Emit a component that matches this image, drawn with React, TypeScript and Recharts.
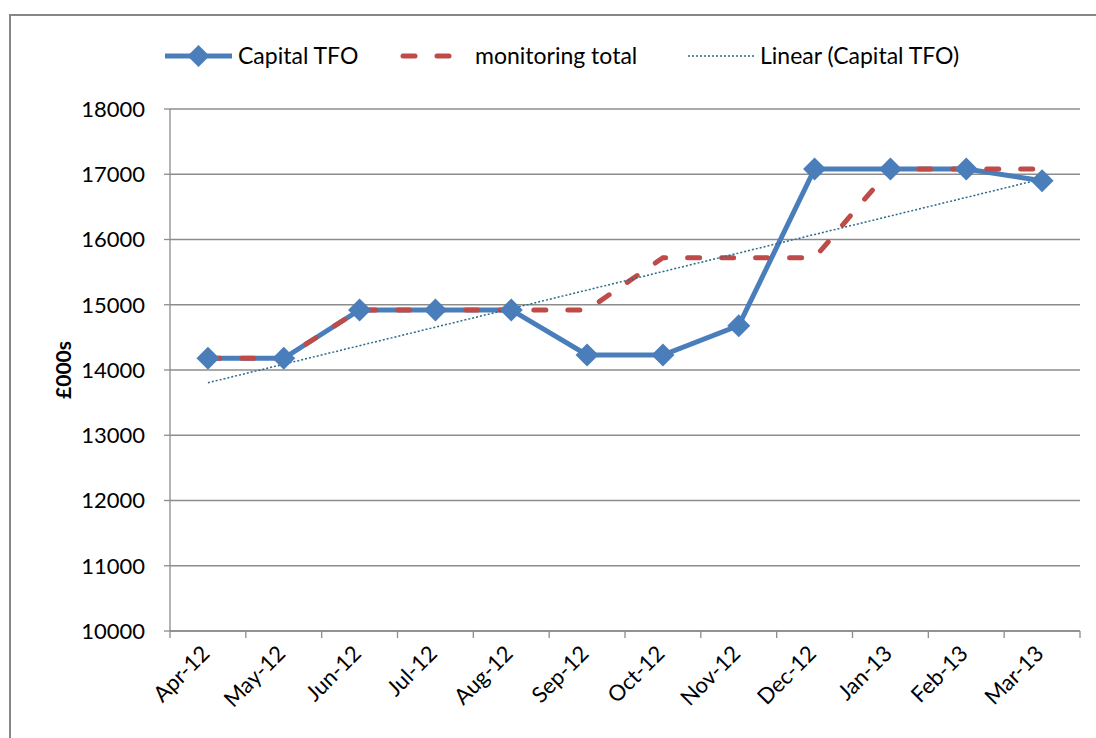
import {
  LineChart,
  Line,
  XAxis,
  YAxis,
  CartesianGrid,
  Legend,
} from "recharts";

const months = [
  "Apr-12", "May-12", "Jun-12", "Jul-12", "Aug-12", "Sep-12",
  "Oct-12", "Nov-12", "Dec-12", "Jan-13", "Feb-13", "Mar-13",
];
const capitalTfo = [14180, 14180, 14920, 14920, 14920, 14230, 14230, 14680, 17080, 17080, 17080, 16900];
const monitoringTotal = [14180, 14180, 14920, 14920, 14920, 14920, 15720, 15720, 15720, 17080, 17080, 17080];
const yTicks = [10000, 11000, 12000, 13000, 14000, 15000, 16000, 17000, 18000];

const BLUE = "#4a7ebb";
const RED = "#be4b48";
const TREND = "#2a6b8a";
const GRID = "#8c8c8c";
const FONT = 'Lato, "Liberation Sans", Arial, sans-serif';

// least squares trendline over Capital TFO, like Excel's "Linear" trendline
function linearFit(values: number[]) {
  const n = values.length;
  const mx = (n - 1) / 2;
  const my = values.reduce((a, b) => a + b, 0) / n;
  let sxy = 0;
  let sxx = 0;
  values.forEach((v, i) => {
    sxy += (i - mx) * (v - my);
    sxx += (i - mx) * (i - mx);
  });
  const slope = sxy / sxx;
  return values.map((_, i) => my + slope * (i - mx));
}

const trend = linearFit(capitalTfo);

const data = months.map((m, i) => ({
  month: m,
  capital: capitalTfo[i],
  monitoring: monitoringTotal[i],
  trend: trend[i],
}));

const Diamond = (props: any) => {
  const { cx, cy } = props;
  if (cx == null || cy == null) return null;
  const r = 11.5;
  return (
    <polygon
      points={`${cx},${cy - r} ${cx + r},${cy} ${cx},${cy + r} ${cx - r},${cy}`}
      fill={BLUE}
    />
  );
};

const BAND = (1080 - 170) / months.length;

const XTick = (props: any) => {
  const { x, y, payload } = props;
  const half = BAND / 2;
  const last = payload.index === months.length - 1;
  return (
    <g>
      <line x1={x - half} y1={y} x2={x - half} y2={y + 7} stroke={GRID} strokeWidth={1.3} />
      {last && <line x1={x + half} y1={y} x2={x + half} y2={y + 7} stroke={GRID} strokeWidth={1.3} />}
      <text
        transform={`translate(${x + 3},${y + 24}) rotate(-45)`}
        textAnchor="end"
        fontSize={22}
        fontFamily={FONT}
        fill="#000"
      >
        {payload.value}
      </text>
    </g>
  );
};

const legendItems = [
  { name: "Capital TFO", left: 165, iconW: 67, textLeft: 238, kind: "capital" },
  { name: "monitoring total", left: 400, iconW: 55, textLeft: 475, kind: "monitoring" },
  { name: "Linear (Capital TFO)", left: 688, iconW: 67, textLeft: 760, kind: "trend" },
];

const renderLegend = () => (
  <div style={{ position: "relative", width: 1096, height: 40, fontFamily: FONT, fontSize: 23 }}>
    {legendItems.map((it) => (
      <div key={it.name}>
        <svg
          width={it.iconW}
          height={30}
          style={{ position: "absolute", left: it.left, top: 0 }}
        >
          {it.kind === "capital" && (
            <>
              <line x1={0} y1={15} x2={it.iconW} y2={15} stroke={BLUE} strokeWidth={5} />
              <polygon points={`${it.iconW / 2},4 ${it.iconW / 2 + 11},15 ${it.iconW / 2},26 ${it.iconW / 2 - 11},15`} fill={BLUE} />
            </>
          )}
          {it.kind === "monitoring" && (
            <line x1={3} y1={15} x2={it.iconW - 3} y2={15} stroke={RED} strokeWidth={5} strokeDasharray="12 22" strokeLinecap="round" />
          )}
          {it.kind === "trend" && (
            <line x1={0} y1={15} x2={it.iconW} y2={15} stroke={TREND} strokeWidth={1.5} strokeDasharray="2 2" />
          )}
        </svg>
        <span style={{ position: "absolute", left: it.textLeft, top: 0, lineHeight: "28px", whiteSpace: "nowrap", color: "#000" }}>
          {it.name}
        </span>
      </div>
    ))}
  </div>
);

const YLabel = (props: any) => {
  const vb = props.viewBox || {};
  const cy = (vb.y ?? 109) + (vb.height ?? 522) / 2;
  return (
    <text
      transform={`translate(62,${cy}) rotate(-90)`}
      textAnchor="middle"
      dominantBaseline="central"
      fontSize={21}
      fontWeight="bold"
      fontFamily={FONT}
      fill="#000"
    >
      £000s
    </text>
  );
};

export default function App() {
  return (
    <div
      style={{
        position: "fixed",
        left: 0,
        top: 0,
        width: 1096,
        height: 738,
        overflow: "hidden",
        background: "#fff",
      }}
    >
      <div
        style={{
          position: "absolute",
          left: 9,
          top: 14,
          width: 1300,
          height: 900,
          border: "2px solid #878787",
        }}
      />
      <div style={{ position: "absolute", left: 0, top: 0 }}>
        <LineChart
          width={1096}
          height={738}
          data={data}
          margin={{ top: 109, right: 16, left: 0, bottom: 7 }}
        >
          <CartesianGrid vertical={false} stroke={GRID} strokeWidth={1.3} />
          <XAxis
            dataKey="month"
            scale="band"
            height={100}
            axisLine={{ stroke: GRID, strokeWidth: 1.3 }}
            tickLine={false}
            tickSize={0}
            tickMargin={0}
            interval={0}
            tick={<XTick />}
          />
          <YAxis
            width={170}
            domain={[10000, 18000]}
            ticks={yTicks}
            interval={0}
            axisLine={{ stroke: GRID, strokeWidth: 1.3 }}
            tickLine={{ stroke: GRID, strokeWidth: 1.3 }}
            tickSize={6}
            tickMargin={19}
            tick={{ fontSize: 22, fontFamily: FONT, fill: "#000" }}
            label={<YLabel />}
          />
          <Legend
            verticalAlign="middle"
            layout="horizontal"
            align="center"
            content={renderLegend}
            wrapperStyle={{ position: "absolute", top: 41, left: 0, width: 1096 }}
          />
          <Line
            type="linear"
            dataKey="capital"
            name="Capital TFO"
            stroke={BLUE}
            strokeWidth={5}
            dot={<Diamond />}
            activeDot={false}
            isAnimationActive={false}
          />
          <Line
            type="linear"
            dataKey="monitoring"
            name="monitoring total"
            stroke={RED}
            strokeWidth={5}
            strokeDasharray="12 22"
            strokeLinecap="round"
            dot={false}
            activeDot={false}
            isAnimationActive={false}
          />
          <Line
            type="linear"
            dataKey="trend"
            name="Linear (Capital TFO)"
            stroke={TREND}
            strokeWidth={1.5}
            strokeDasharray="2 2"
            dot={false}
            activeDot={false}
            isAnimationActive={false}
          />
        </LineChart>
      </div>
    </div>
  );
}
